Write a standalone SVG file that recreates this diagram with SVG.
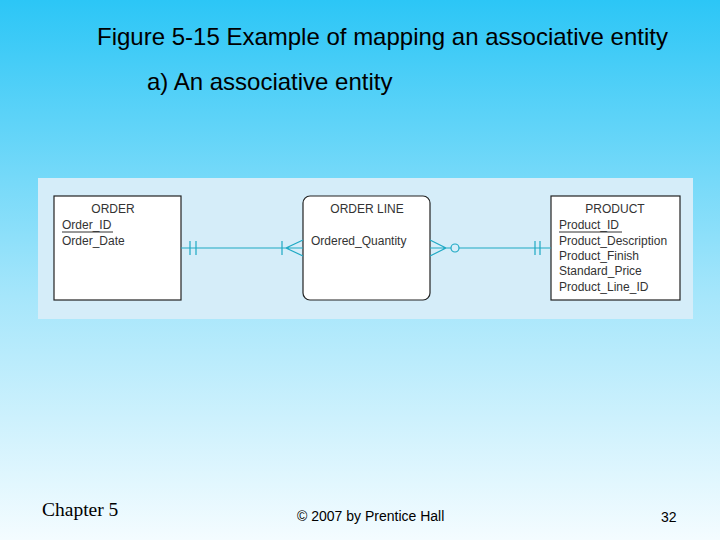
<svg xmlns="http://www.w3.org/2000/svg" width="720" height="540" viewBox="0 0 720 540">
<defs><linearGradient id="bg" x1="0" y1="0" x2="0" y2="1"><stop offset="0" stop-color="#2cc6f6"/><stop offset="0.55" stop-color="#a6e6fb"/><stop offset="1" stop-color="#f4fcff"/></linearGradient></defs>
<style>
.t{font-family:"Liberation Sans",Arial,sans-serif;fill:#000}
.e{fill:#fff;stroke:#222;stroke-width:1.2}
.a{font-family:"Liberation Sans",Arial,sans-serif;font-size:12px;fill:#333}
.c{stroke:#1fa9c4;stroke-width:1.2;fill:none}
</style>
<rect width="720" height="540" fill="url(#bg)"/>
<text class="t" x="97" y="45" font-size="24">Figure 5-15 Example of mapping an associative entity</text>
<text class="t" x="147" y="90" font-size="24">a) An associative entity</text>
<rect x="38" y="178" width="655" height="141" fill="#d5edf9"/>
<g id="order"><rect class="e" x="54" y="196" width="127" height="104"/>
<text class="a" x="113" y="213" text-anchor="middle">ORDER</text>
<text class="a" x="62" y="229">Order_ID</text><line x1="62" y1="232" x2="113" y2="232" stroke="#333"/>
<text class="a" x="62" y="245">Order_Date</text></g>
<g id="orderline"><rect class="e" x="303" y="196" width="127" height="104" rx="7"/>
<text class="a" x="367" y="213" text-anchor="middle">ORDER LINE</text>
<text class="a" x="311" y="245">Ordered_Quantity</text></g>
<g id="product"><rect class="e" x="551" y="196" width="129" height="104"/>
<text class="a" x="615" y="213" text-anchor="middle">PRODUCT</text>
<text class="a" x="559" y="229">Product_ID</text><line x1="559" y1="232" x2="622" y2="232" stroke="#333"/>
<text class="a" x="559" y="245">Product_Description</text>
<text class="a" x="559" y="260">Product_Finish</text>
<text class="a" x="559" y="275">Standard_Price</text>
<text class="a" x="559" y="291">Product_Line_ID</text></g>
<g id="connectors">
<path class="c" d="M181 248H303M190 241V255M196 241V255M282 241V255M303 240L286 248L303 256"/>
<path class="c" d="M430 248H451M459 248H551M430 240L446 248L430 256M535 241V255M540 241V255"/>
<circle class="c" cx="455" cy="248" r="4"/>
</g>
<text x="42" y="516" font-family="Liberation Serif,serif" font-size="19.5">Chapter 5</text>
<text class="t" x="297" y="521" font-size="14" fill="#222">© 2007 by Prentice Hall</text>
<text class="t" x="661" y="522" font-size="14">32</text>
</svg>
